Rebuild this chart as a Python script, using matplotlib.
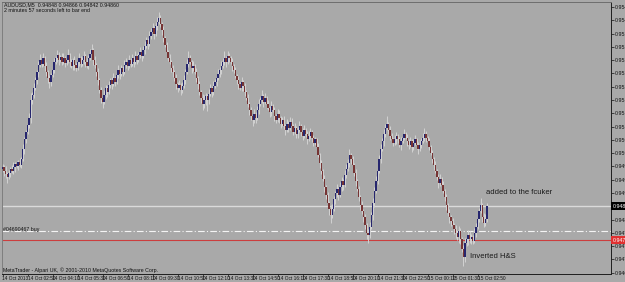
import numpy as np
import matplotlib
matplotlib.use("Agg")
import matplotlib.pyplot as plt
from matplotlib import font_manager

# ---------------- data (prices in points, 1 point = 0.00001) ----------------
first_open = 94971
closes = [
    94977, 94965, 94956, 94947, 94959, 94971, 94965, 94977, 94986, 94980,
    94992, 94983, 95001, 95031, 95061, 95085, 95106, 95127, 95181, 95196,
    95217, 95241, 95265, 95286, 95301, 95289, 95307, 95283, 95265, 95247,
    95235, 95256, 95271, 95295, 95307, 95316, 95301, 95310, 95295, 95307,
    95292, 95301, 95316, 95295, 95283, 95301, 95286, 95277, 95295, 95307,
    95289, 95301, 95313, 95295, 95283, 95307, 95319, 95331, 95301, 95286,
    95265, 95241, 95211, 95187, 95175, 95196, 95217, 95205, 95226, 95241,
    95229, 95247, 95235, 95256, 95271, 95259, 95277, 95265, 95286, 95295,
    95283, 95301, 95289, 95307, 95295, 95313, 95301, 95316, 95325, 95313,
    95331, 95343, 95361, 95349, 95373, 95385, 95397, 95379, 95403, 95415,
    95427, 95409, 95391, 95367, 95346, 95325, 95307, 95295, 95277, 95265,
    95247, 95229, 95217, 95226, 95211, 95223, 95241, 95265, 95289, 95307,
    95295, 95277, 95283, 95265, 95247, 95229, 95205, 95187, 95169, 95181,
    95193, 95181, 95199, 95217, 95205, 95223, 95235, 95247, 95259, 95271,
    95283, 95295, 95307, 95295, 95313, 95307, 95295, 95283, 95271, 95253,
    95241, 95229, 95217, 95235, 95223, 95205, 95187, 95169, 95151, 95133,
    95121, 95139, 95127, 95151, 95169, 95181, 95193, 95175, 95187, 95169,
    95157, 95145, 95163, 95151, 95133, 95121, 95139, 95127, 95109, 95121,
    95103, 95091, 95109, 95097, 95115, 95103, 95085, 95097, 95079, 95091,
    95103, 95085, 95073, 95091, 95079, 95061, 95073, 95085, 95067, 95049,
    95061, 95037, 95013, 94989, 94965, 94941, 94917, 94893, 94869, 94851,
    94833, 94851, 94881, 94899, 94911, 94893, 94917, 94935, 94923, 94953,
    94971, 94989, 95013, 95001, 94983, 94959, 94935, 94911, 94887, 94863,
    94845, 94827, 94803, 94779, 94773, 94797, 94833, 94869, 94905, 94935,
    94965, 95001, 95031, 95055, 95079, 95097, 95109, 95091, 95073, 95061,
    95049, 95061, 95073, 95061, 95043, 95055, 95067, 95079, 95067, 95055,
    95043, 95055, 95037, 95049, 95061, 95043, 95031, 95043, 95055, 95067,
    95079, 95067, 95055, 95037, 95019, 95001, 94983, 94965, 94947, 94929,
    94941, 94923, 94905, 94887, 94863, 94839, 94827, 94815, 94803, 94791,
    94779, 94767, 94785, 94761, 94731, 94707, 94749, 94761, 94773, 94761,
    94767, 94755, 94779, 94797, 94821, 94845, 94863, 94827, 94809, 94821,
    94860,
]
upper_wick = [
    9, 6, 15, 6, 9, 6, 12, 15, 6, 9,
    6, 12, 6, 15, 9, 6, 12, 15, 21, 9,
    15, 9, 6, 12, 18, 9, 15, 6, 12, 6,
    9, 6, 15, 12, 6, 15, 9, 6, 12, 15,
    6, 12, 18, 6, 9, 6, 12, 6, 9, 15,
    6, 9, 15, 6, 12, 9, 15, 18, 6, 12,
    6, 12, 6, 9, 6, 15, 9, 6, 12, 6,
    9, 15, 6, 12, 15, 6, 9, 6, 15, 12,
    6, 15, 6, 12, 6, 15, 6, 9, 15, 6,
    12, 15, 9, 6, 15, 12, 15, 6, 12, 15,
    18, 9, 6, 12, 6, 9, 6, 12, 6, 9,
    6, 12, 6, 15, 6, 12, 15, 9, 15, 21,
    9, 6, 15, 6, 12, 6, 9, 6, 12, 15,
    9, 6, 15, 12, 6, 15, 9, 12, 15, 9,
    15, 12, 21, 6, 15, 9, 6, 12, 6, 9,
    6, 12, 6, 15, 6, 9, 6, 12, 6, 9,
    6, 15, 6, 12, 15, 9, 18, 6, 15, 6,
    12, 6, 15, 6, 9, 6, 15, 12, 6, 9,
    12, 6, 15, 9, 15, 12, 6, 15, 6, 9,
    15, 6, 12, 15, 6, 9, 15, 12, 6, 9,
    9, 6, 12, 6, 9, 6, 12, 6, 9, 6,
    12, 15, 9, 6, 15, 6, 15, 12, 6, 15,
    15, 12, 18, 6, 9, 6, 12, 6, 9, 6,
    12, 6, 9, 6, 12, 15, 9, 15, 12, 15,
    15, 12, 15, 9, 15, 12, 24, 6, 12, 9,
    6, 15, 12, 6, 9, 15, 9, 15, 6, 12,
    6, 15, 6, 12, 15, 6, 9, 15, 12, 15,
    18, 9, 6, 12, 6, 9, 6, 12, 6, 9,
    15, 6, 12, 6, 9, 6, 12, 6, 9, 6,
    12, 6, 15, 9, 6, 12, 15, 9, 15, 12,
    9, 6, 15, 12, 15, 9, 21, 6, 12, 15,
    9,
]
lower_wick = [
    9, 15, 12, 18, 6, 12, 6, 9, 15, 6,
    12, 6, 9, 6, 15, 12, 6, 9, 15, 12,
    9, 6, 12, 15, 6, 9, 6, 15, 12, 15,
    18, 12, 6, 9, 6, 12, 15, 6, 9, 6,
    12, 6, 9, 15, 6, 12, 15, 9, 6, 12,
    9, 6, 12, 15, 6, 9, 6, 12, 15, 9,
    12, 15, 9, 15, 18, 6, 12, 15, 6, 9,
    15, 6, 12, 6, 9, 15, 6, 12, 6, 9,
    12, 6, 9, 6, 15, 6, 12, 6, 9, 15,
    6, 12, 6, 15, 6, 9, 6, 15, 6, 12,
    6, 9, 15, 12, 6, 15, 9, 6, 12, 15,
    9, 15, 12, 6, 15, 9, 6, 12, 6, 9,
    6, 15, 9, 6, 12, 15, 9, 15, 18, 12,
    15, 33, 12, 6, 15, 9, 6, 12, 6, 9,
    12, 6, 9, 15, 6, 12, 6, 15, 9, 6,
    12, 15, 6, 9, 15, 12, 6, 9, 15, 12,
    18, 9, 15, 6, 12, 6, 9, 15, 6, 12,
    6, 15, 12, 6, 15, 9, 6, 15, 12, 6,
    9, 15, 6, 12, 6, 15, 9, 6, 15, 12,
    6, 12, 15, 6, 9, 15, 6, 12, 15, 9,
    6, 12, 6, 15, 9, 6, 15, 12, 15, 18,
    24, 9, 6, 15, 12, 15, 6, 12, 15, 6,
    9, 6, 12, 15, 6, 9, 15, 6, 12, 15,
    9, 15, 12, 18, 24, 9, 6, 15, 12, 6,
    9, 6, 12, 6, 15, 9, 6, 12, 15, 6,
    9, 6, 15, 12, 6, 15, 6, 9, 6, 15,
    12, 6, 15, 9, 6, 12, 15, 6, 9, 6,
    12, 15, 6, 9, 6, 12, 15, 6, 9, 15,
    9, 15, 6, 12, 15, 9, 18, 15, 9, 15,
    15, 9, 18, 15, 9, 27, 15, 9, 18, 12,
    15, 9, 6, 12, 6, 9, 6, 15, 12, 9,
    9,
]
time_labels = ["14 Oct 2013", "14 Oct 02:50", "14 Oct 04:10", "14 Oct 05:30",
               "14 Oct 06:50", "14 Oct 08:10", "14 Oct 09:30", "14 Oct 10:50",
               "14 Oct 12:10", "14 Oct 13:30", "14 Oct 14:50", "14 Oct 16:10",
               "14 Oct 17:30", "14 Oct 18:50", "14 Oct 20:10", "14 Oct 21:30",
               "14 Oct 22:50", "15 Oct 00:10", "15 Oct 01:30", "15 Oct 02:50"]
bars_per_label = 16
price_ticks = [95460, 95420, 95380, 95340, 95300, 95260, 95220, 95180, 95140,
               95100, 95060, 95020, 94980, 94940, 94900, 94860, 94820, 94780,
               94740, 94700, 94660]
bid_price = 94860
order_price = 94784
stop_price = 94758
y_limits = (94656, 95475)

# ---------------- fonts ----------------
def pick_font(cands):
    for f in cands:
        try:
            font_manager.findfont(f, fallback_to_default=False)
            return f
        except Exception:
            continue
    return "DejaVu Sans"

small_font = pick_font(["Liberation Sans Narrow", "DejaVu Sans Condensed", "Liberation Sans"])
main_font = pick_font(["Liberation Sans", "DejaVu Sans"])
plt.rcParams['font.family'] = [main_font, 'DejaVu Sans']

# ---------------- figure ----------------
W, H = 625, 282
BG = "#a9a9a9"
fig = plt.figure(figsize=(W / 100, H / 100), dpi=100, facecolor=BG)

ax_l, ax_r, ax_t, ax_b = 2, 611, 2, 274
ax = fig.add_axes([ax_l / W, 1 - ax_b / H, (ax_r - ax_l) / W, (ax_b - ax_t) / H])
ax.set_facecolor(BG)

px_per_bar = 1.5625
x0_px = 2.5
ax.set_xlim((ax_l - x0_px) / px_per_bar, (ax_r - x0_px) / px_per_bar)
ax.set_ylim(y_limits[0] / 1e5, y_limits[1] / 1e5)

c = np.array(closes, dtype=float)
o = np.concatenate([[first_open], c[:-1]])
hi = np.maximum(o, c) + np.array(upper_wick)
lo = np.minimum(o, c) - np.array(lower_wick)
x = np.arange(len(c))

# horizontal lines
ax.axhline(bid_price / 1e5, color="#dadada", lw=1.0, zorder=1)
ax.axhline(order_price / 1e5, color="#f4f4f4", lw=0.8, ls=(0, (6, 2, 1, 2)), zorder=1)
ax.axhline(stop_price / 1e5, color="#cc3e3e", lw=0.8, zorder=1)

ax.vlines(x, lo / 1e5, hi / 1e5, color="#d2d2d2", lw=0.7, zorder=2)
up = c >= o
body_h = np.where(np.abs(c - o) < 2, 2, c - o)
ax.bar(x[up], body_h[up] / 1e5, bottom=o[up] / 1e5, width=0.85,
       color="#26266e", linewidth=0, zorder=3)
ax.bar(x[~up], body_h[~up] / 1e5, bottom=o[~up] / 1e5, width=0.85,
       color="#763434", linewidth=0, zorder=3)

# axes styling
for s in ax.spines.values():
    s.set_color("#1e1e1e")
    s.set_linewidth(0.7)
ax.spines["top"].set_color("#6e6e6e")
ax.spines["left"].set_color("#7e7e7e")

ax.yaxis.tick_right()
ax.set_yticks([p / 1e5 for p in price_ticks])
# the tick at the bid price is hidden under the bid box, as in MetaTrader
ax.set_yticklabels(["" if p == bid_price else f"{p / 1e5:.5f}" for p in price_ticks])
ax.tick_params(axis="y", length=2, width=0.5, labelsize=3.8, pad=1,
               colors="#111111", direction="out")

ax.set_xticks([i * bars_per_label for i in range(len(time_labels))])
ax.set_xticklabels(time_labels)
for lbl in ax.get_xticklabels():
    lbl.set_horizontalalignment("left")
    lbl.set_fontfamily(small_font)
ax.tick_params(axis="x", length=1.5, width=0.5, labelsize=3.4, pad=0.3,
               colors="#111111", direction="out")

# price boxes on axis
def axis_box(price, fc, tc):
    yf = ax.transData.transform((0, price / 1e5))[1]
    yfig = yf / fig.dpi / (H / 100)
    fig.text(612.5 / W, yfig, f"{price / 1e5:.5f}", fontsize=3.8, color=tc,
             va="center", ha="left",
             bbox=dict(boxstyle="square,pad=0.25", fc=fc, ec="none"))

axis_box(bid_price, "#000000", "#ffffff")
axis_box(stop_price, "#e03030", "#ffffff")

def ftext(px, py, s, size, **kw):
    fig.text(px / W, 1 - py / H, s, fontsize=size, va="center", ha="left",
             color=kw.pop("color", "#111111"), **kw)

ftext(4, 5, "AUDUSD,M5  0.94848 0.94866 0.94842 0.94860", 3.8)
ftext(4, 10, "2 minutes 57 seconds left to bar end", 3.8)
ftext(3, 230, "#04690467 buy", 3.8)
ftext(3, 270, "MetaTrader - Alpari UK, \u00a9 2001-2010 MetaQuotes Software Corp.", 3.8)
ftext(486, 192, "added to the fcuker", 5.5, color="#1a1a1a")
ftext(470, 256, "Inverted H&S", 5.5, color="#1a1a1a")

fig.savefig("out.png", dpi=100, facecolor=BG)
